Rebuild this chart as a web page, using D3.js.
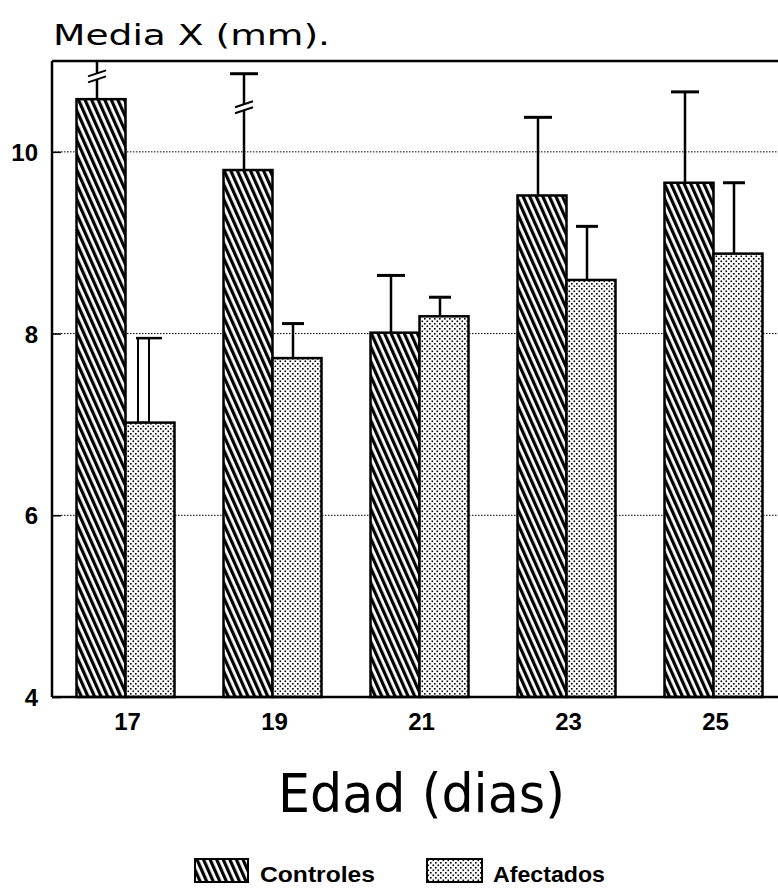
<!DOCTYPE html>
<html>
<head>
<meta charset="utf-8">
<script src="https://cdn.jsdelivr.net/npm/d3@7"></script>
<style>
  body { margin: 0; background: #fff; }
  svg { display: block; }
</style>
</head>
<body>
<div id="chart"></div>
<script>
// data
const dias = ["17", "19", "21", "23", "25"];
const series = ["Controles", "Afectados"];
const controles = [10.58, 9.80, 8.01, 9.52, 9.66];
const controlesErr = [11.0, 10.86, 8.64, 10.38, 10.66];
const afectados = [7.02, 7.73, 8.19, 8.59, 8.88];
const afectadosErr = [7.95, 8.11, 8.40, 9.18, 9.66];
const yTicks = [4, 6, 8, 10];
// error bars drawn with a break mark (value where the mark sits)
const breakAt = {"17": 10.82, "19": 10.48};

const W = 778, H = 893;
const margin = {top: 61, left: 52, bottom: 196};
const plotH = H - margin.top - margin.bottom;
const font = "'Liberation Sans', Arial, sans-serif";

const svg = d3.select("#chart")
  .append("svg")
    .attr("width", W)
    .attr("height", H)
    .style("font-family", font);

// patterns
const defs = svg.append("defs");
const hatch = defs.append("pattern")
    .attr("id", "hatch")
    .attr("patternUnits", "userSpaceOnUse")
    .attr("width", 6).attr("height", 6)
    .attr("patternTransform", "rotate(-24)");
hatch.append("rect").attr("width", 6).attr("height", 6).attr("fill", "#fff");
hatch.append("rect").attr("width", 3.2).attr("height", 6).attr("fill", "#000");

const dots = defs.append("pattern")
    .attr("id", "dots")
    .attr("patternUnits", "userSpaceOnUse")
    .attr("width", 5).attr("height", 5);
dots.append("rect").attr("width", 5).attr("height", 5).attr("fill", "#fff");
dots.append("rect").attr("x", 0.5).attr("y", 0.5).attr("width", 1.6).attr("height", 1.6).attr("fill", "#000");
dots.append("rect").attr("x", 3).attr("y", 3).attr("width", 1.6).attr("height", 1.6).attr("fill", "#000");

const fills = {"Controles": "url(#hatch)", "Afectados": "url(#dots)"};

// scales
const x0 = d3.scaleBand()
  .domain(dias)
  .range([margin.left, margin.left + 5 * 147])
  .padding(0);

const x1 = d3.scaleBand()
  .domain(series)
  .range([0, x0.bandwidth()])
  .paddingInner(0)
  .paddingOuter(0.5);

const y = d3.scaleLinear()
  .domain([4, 11])
  .range([margin.top + plotH, margin.top]);

const g = svg.append("g");

// dotted gridlines
g.selectAll("line.grid")
  .data(yTicks.filter(d => d > 4))
  .join("line")
    .attr("class", "grid")
    .attr("x1", margin.left).attr("x2", W)
    .attr("y1", d => y(d)).attr("y2", d => y(d))
    .attr("stroke", "#000")
    .attr("stroke-width", 1)
    .attr("stroke-dasharray", "1.5,1.5");

// y axis
const yAxis = g.append("g")
  .attr("transform", `translate(${margin.left},0)`)
  .call(d3.axisLeft(y).tickValues(yTicks).tickSize(-9).tickPadding(14).tickFormat(d3.format("d")));
yAxis.select(".domain").remove();
yAxis.selectAll(".tick line").attr("stroke", "#000").attr("stroke-width", 1.5);
yAxis.selectAll(".tick text")
  .attr("font-family", font)
  .attr("font-size", 24)
  .attr("font-weight", "bold")
  .attr("fill", "#000")
  .attr("dy", "0.36em");

// frame: left axis, top line
g.append("line")
  .attr("x1", margin.left).attr("x2", margin.left)
  .attr("y1", y(11)).attr("y2", y(4))
  .attr("stroke", "#000").attr("stroke-width", 2.5);
g.append("line")
  .attr("x1", margin.left).attr("x2", W)
  .attr("y1", y(11)).attr("y2", y(11))
  .attr("stroke", "#000").attr("stroke-width", 2.5);

// bars
const rows = dias.map((d, i) => ({
  dia: d,
  vals: [
    {s: "Controles", v: controles[i], e: controlesErr[i]},
    {s: "Afectados", v: afectados[i], e: afectadosErr[i]}
  ]
}));

const groups = g.selectAll("g.grp")
  .data(rows)
  .join("g")
    .attr("class", "grp")
    .attr("transform", d => `translate(${x0(d.dia)},0)`);

// error bars
groups.each(function(row) {
  const gg = d3.select(this);
  row.vals.forEach(d => {
    const bx = x1(d.s) + x1.bandwidth() / 2 - 4;
    const capW = d.s === "Controles" ? 28 : 22;
    if (row.dia === "17" && d.s === "Afectados") {
      // drawn as a narrow hollow bar in the original
      gg.append("rect")
        .attr("x", bx - 8).attr("y", y(d.e))
        .attr("width", 11).attr("height", y(d.v) - y(d.e))
        .attr("fill", "none").attr("stroke", "#000").attr("stroke-width", 2);
      gg.append("line")
        .attr("x1", bx - 10).attr("x2", bx + 16)
        .attr("y1", y(d.e)).attr("y2", y(d.e))
        .attr("stroke", "#000").attr("stroke-width", 2.5);
      return;
    }
    gg.append("line")
      .attr("x1", bx).attr("x2", bx)
      .attr("y1", y(d.v)).attr("y2", y(d.e))
      .attr("stroke", "#000").attr("stroke-width", 2.5);
    if (d.e < 11) {
      gg.append("line")
        .attr("x1", bx - capW / 2).attr("x2", bx + capW / 2)
        .attr("y1", y(d.e)).attr("y2", y(d.e))
        .attr("stroke", "#000").attr("stroke-width", 3);
    }
    if (d.s === "Controles" && breakAt[row.dia] !== undefined) {
      const by = y(breakAt[row.dia]);
      gg.append("polygon")
        .attr("points", `${bx - 8},${by + 5} ${bx + 8},${by} ${bx + 8},${by - 6} ${bx - 8},${by - 1}`)
        .attr("fill", "#fff");
      gg.append("line")
        .attr("x1", bx - 9).attr("x2", bx + 9)
        .attr("y1", by + 5).attr("y2", by - 1)
        .attr("stroke", "#000").attr("stroke-width", 2);
      gg.append("line")
        .attr("x1", bx - 9).attr("x2", bx + 9)
        .attr("y1", by - 1).attr("y2", by - 7)
        .attr("stroke", "#000").attr("stroke-width", 2);
    }
  });
});

groups.selectAll("rect.bar")
  .data(d => d.vals)
  .join("rect")
    .attr("class", "bar")
    .attr("x", d => x1(d.s))
    .attr("y", d => y(d.v))
    .attr("width", x1.bandwidth())
    .attr("height", d => y(4) - y(d.v))
    .attr("fill", d => fills[d.s])
    .attr("stroke", "#000")
    .attr("stroke-width", 2.5);

// bottom axis line
g.append("line")
  .attr("x1", margin.left).attr("x2", W)
  .attr("y1", y(4)).attr("y2", y(4))
  .attr("stroke", "#000").attr("stroke-width", 2.5);

// x axis labels
const xAxis = g.append("g")
  .attr("transform", `translate(0,${y(4)})`)
  .call(d3.axisBottom(x0).tickSize(0).tickPadding(33));
xAxis.select(".domain").remove();
xAxis.selectAll(".tick text")
  .attr("font-family", font)
  .attr("font-size", 24)
  .attr("font-weight", "bold")
  .attr("fill", "#000")
  .attr("dx", 2)
  .attr("dy", 0);

// title
svg.append("text")
  .attr("x", 53).attr("y", 45)
  .attr("font-family", "'DejaVu Sans', sans-serif")
  .attr("font-size", 29)
  .attr("textLength", 277)
  .attr("lengthAdjust", "spacingAndGlyphs")
  .text("Media X (mm).");

// x axis title
svg.append("text")
  .attr("x", 278).attr("y", 812)
  .attr("font-family", "'DejaVu Sans', sans-serif")
  .attr("font-size", 53)
  .attr("textLength", 287)
  .attr("lengthAdjust", "spacingAndGlyphs")
  .text("Edad (dias)");

// legend
const legX = [195, 427];
const leg = svg.selectAll("g.leg")
  .data(series)
  .join("g")
    .attr("class", "leg")
    .attr("transform", (d, i) => `translate(${legX[i]},859)`);
leg.append("rect")
  .attr("width", (d, i) => i === 0 ? 53 : 55)
  .attr("height", 23)
  .attr("fill", d => fills[d])
  .attr("stroke", "#000")
  .attr("stroke-width", 2);
leg.append("text")
  .attr("x", (d, i) => i === 0 ? 65 : 66)
  .attr("y", 23)
  .attr("font-size", 22)
  .attr("font-weight", "bold")
  .attr("textLength", (d, i) => i === 0 ? 115 : 112)
  .attr("lengthAdjust", "spacingAndGlyphs")
  .text(d => d);
</script>
</body>
</html>
